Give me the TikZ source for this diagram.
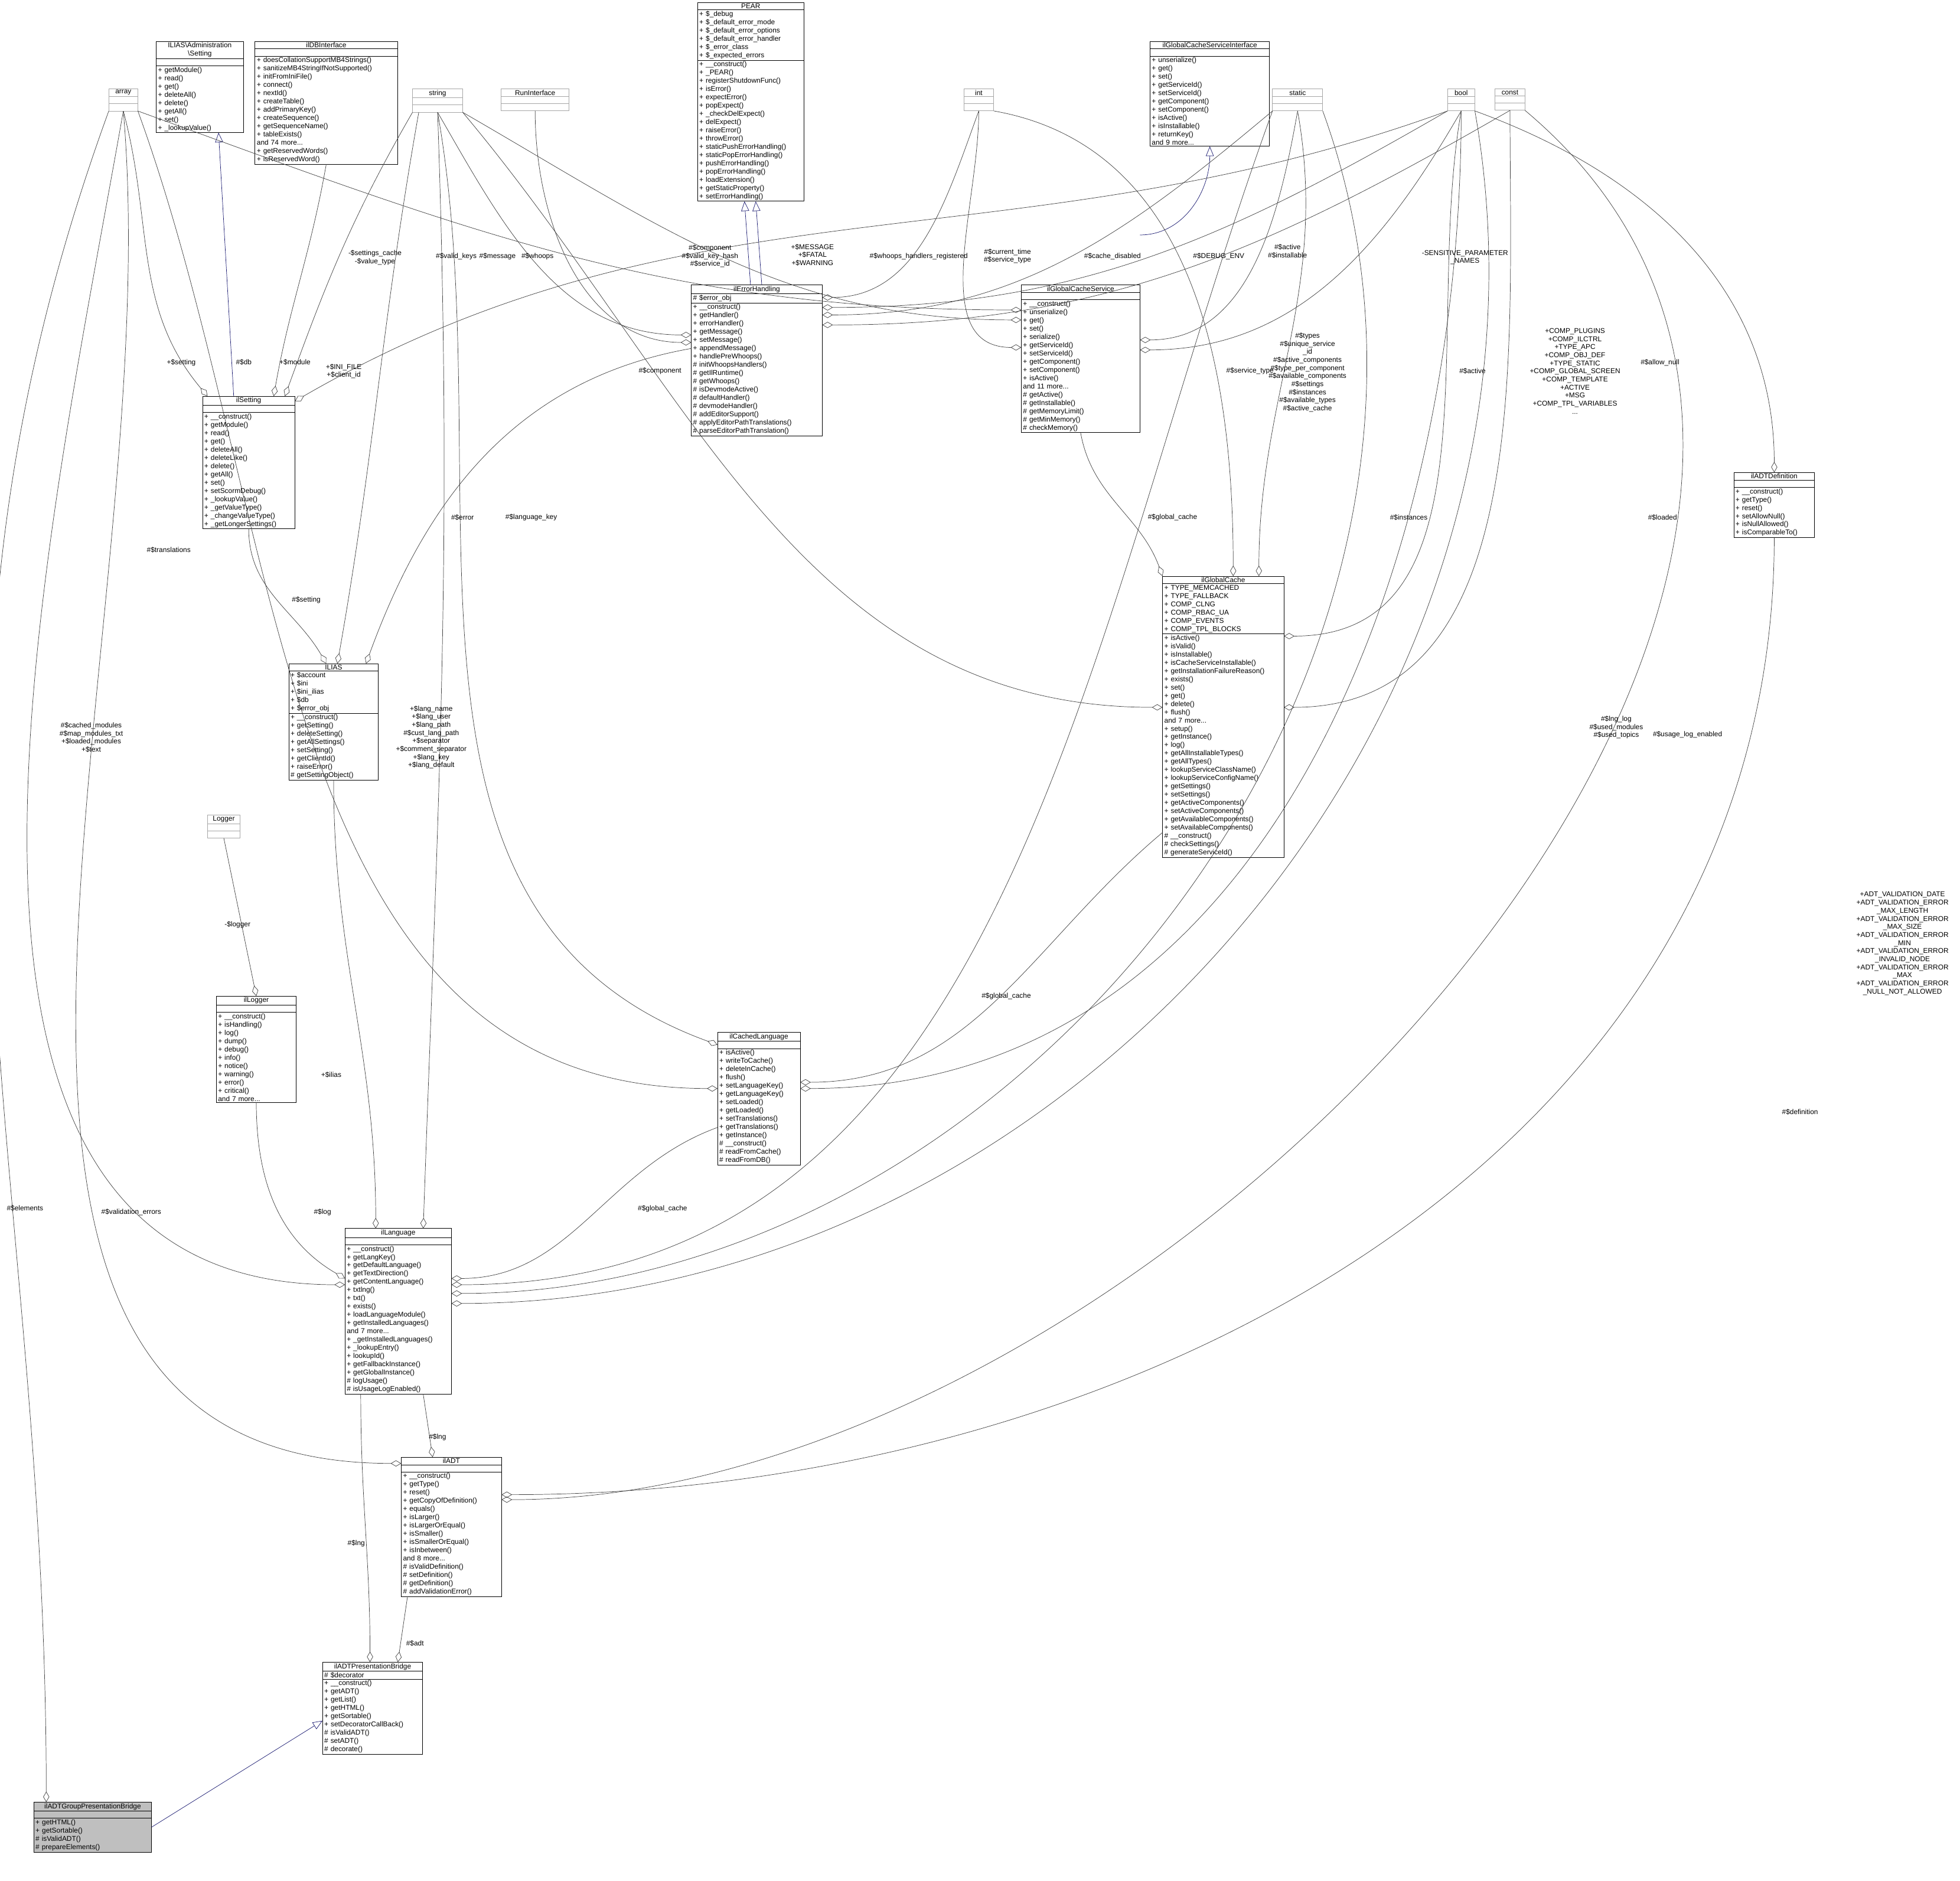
\documentclass[tikz,border=0pt]{standalone}
\usepackage{fontspec}
\setmainfont{Liberation Sans}
\usetikzlibrary{shapes.multipart,arrows.meta}
\begin{document}
\catcode`\$=12 \catcode`\_=12
\begin{tikzpicture}[x=0.125mm,y=-0.125mm,line width=0.12pt,
  cls/.style={draw=black, rectangle split, rectangle split parts=3, anchor=north west, scale=0.25,
    font=\fontsize{8}{9.4}\selectfont, align=left, inner xsep=2pt, inner ysep=1.3pt, fill=white, line width=0.15pt},
  gbox/.style={cls, draw=black!35},
  agg/.style={draw=black!75, -{Diamond[open,length=3pt,width=1.75pt]}},
  inh/.style={draw={rgb,255:red,25;green,25;blue,112}, -{Triangle[open,length=2.75pt,width=2.25pt]}},
  lbl/.style={font=\fontsize{8}{9.2}\selectfont, align=center, inner sep=0pt, scale=0.25}]
\path[use as bounding box] (0,0) rectangle (1568,1505);
\newcommand{\E}{\nodepart{two}\vphantom{A}\nodepart{three}\vphantom{A}}
% gray boxes
\node[gbox,text width=29pt] (array) at (87,71) {{\centering array\par}\E};
\node[gbox,text width=53pt] (string) at (330,71) {{\centering string\par}\E};
\node[gbox,text width=73pt] (run) at (401,71) {{\centering RunInterface\par}\E};
\node[gbox,text width=30pt] (int) at (771,71) {{\centering int\par}\E};
\node[gbox,text width=53pt] (static) at (1018,71) {{\centering static\par}\E};
\node[gbox,text width=27pt] (bool) at (1158,71) {{\centering bool\par}\E};
\node[gbox,text width=30pt] (const) at (1196,71) {{\centering const\par}\E};
\node[gbox,text width=33pt] (logger) at (166,652) {{\centering Logger\par}\E};
% classes
\node[cls,text width=95pt] (adm) at (125,33) {{\centering ILIAS\textbackslash Administration\\\textbackslash Setting\par}
 \nodepart{two}\vphantom{A}\nodepart{three}+ getModule()\\+ read()\\+ get()\\+ deleteAll()\\+ delete()\\+ getAll()\\+ set()\\+ _lookupValue()};
\node[cls,text width=158pt] (dbi) at (204,33) {{\centering ilDBInterface\par}
 \nodepart{two}\vphantom{A}\nodepart{three}+ doesCollationSupportMB4Strings()\\+ sanitizeMB4StringIfNotSupported()\\+ initFromIniFile()\\+ connect()\\+ nextId()\\+ createTable()\\+ addPrimaryKey()\\+ createSequence()\\+ getSequenceName()\\+ tableExists()\\and 74 more...\\+ getReservedWords()\\+ isReservedWord()};
\node[cls,text width=117pt] (pear) at (558,2) {{\centering PEAR\par}
 \nodepart{two}+ $_debug\\+ $_default_error_mode\\+ $_default_error_options\\+ $_default_error_handler\\+ $_error_class\\+ $_expected_errors
 \nodepart{three}+ __construct()\\+ _PEAR()\\+ registerShutdownFunc()\\+ isError()\\+ expectError()\\+ popExpect()\\+ _checkDelExpect()\\+ delExpect()\\+ raiseError()\\+ throwError()\\+ staticPushErrorHandling()\\+ staticPopErrorHandling()\\+ pushErrorHandling()\\+ popErrorHandling()\\+ loadExtension()\\+ getStaticProperty()\\+ setErrorHandling()};
\node[cls,text width=132pt] (gcsi) at (920,33) {{\centering ilGlobalCacheServiceInterface\par}
 \nodepart{two}\vphantom{A}\nodepart{three}+ unserialize()\\+ get()\\+ set()\\+ getServiceId()\\+ setServiceId()\\+ getComponent()\\+ setComponent()\\+ isActive()\\+ isInstallable()\\+ returnKey()\\and 9 more...};
\node[cls,text width=101pt] (set) at (162,317) {{\centering ilSetting\par}
 \nodepart{two}\vphantom{A}\nodepart{three}+ __construct()\\+ getModule()\\+ read()\\+ get()\\+ deleteAll()\\+ deleteLike()\\+ delete()\\+ getAll()\\+ set()\\+ setScormDebug()\\+ _lookupValue()\\+ _getValueType()\\+ _changeValueType()\\+ _getLongerSettings()};
\node[cls,text width=145pt] (eh) at (553,228) {{\centering ilErrorHandling\par}
 \nodepart{two}\# $error_obj\nodepart{three}+ __construct()\\+ getHandler()\\+ errorHandler()\\+ getMessage()\\+ setMessage()\\+ appendMessage()\\+ handlePreWhoops()\\\# initWhoopsHandlers()\\\# getIlRuntime()\\\# getWhoops()\\\# isDevmodeActive()\\\# defaultHandler()\\\# devmodeHandler()\\\# addEditorSupport()\\\# applyEditorPathTranslations()\\\# parseEditorPathTranslation()};
\node[cls,text width=131pt] (gcs) at (817,228) {{\centering ilGlobalCacheService\par}
 \nodepart{two}\vphantom{A}\nodepart{three}+ __construct()\\+ unserialize()\\+ get()\\+ set()\\+ serialize()\\+ getServiceId()\\+ setServiceId()\\+ getComponent()\\+ setComponent()\\+ isActive()\\and 11 more...\\\# getActive()\\\# getInstallable()\\\# getMemoryLimit()\\\# getMinMemory()\\\# checkMemory()};
\node[cls,text width=88pt] (adtdef) at (1387,378) {{\centering ilADTDefinition\par}
 \nodepart{two}\vphantom{A}\nodepart{three}+ __construct()\\+ getType()\\+ reset()\\+ setAllowNull()\\+ isNullAllowed()\\+ isComparableTo()};
\node[cls,text width=134pt] (gc) at (930,461) {{\centering ilGlobalCache\par}
 \nodepart{two}+ TYPE_MEMCACHED\\+ TYPE_FALLBACK\\+ COMP_CLNG\\+ COMP_RBAC_UA\\+ COMP_EVENTS\\+ COMP_TPL_BLOCKS
 \nodepart{three}+ isActive()\\+ isValid()\\+ isInstallable()\\+ isCacheServiceInstallable()\\+ getInstallationFailureReason()\\+ exists()\\+ set()\\+ get()\\+ delete()\\+ flush()\\and 7 more...\\+ setup()\\+ getInstance()\\+ log()\\+ getAllInstallableTypes()\\+ getAllTypes()\\+ lookupServiceClassName()\\+ lookupServiceConfigName()\\+ getSettings()\\+ setSettings()\\+ getActiveComponents()\\+ setActiveComponents()\\+ getAvailableComponents()\\+ setAvailableComponents()\\\# __construct()\\\# checkSettings()\\\# generateServiceId()};
\node[cls,text width=98pt] (ilias) at (231,531) {{\centering ILIAS\par}
 \nodepart{two}+ $account\\+ $ini\\+ $ini_ilias\\+ $db\\+ $error_obj
 \nodepart{three}+ __construct()\\+ getSetting()\\+ deleteSetting()\\+ getAllSettings()\\+ setSetting()\\+ getClientId()\\+ raiseError()\\\# getSettingObject()};
\node[cls,text width=87pt] (ilog) at (173,797) {{\centering ilLogger\par}
 \nodepart{two}\vphantom{A}\nodepart{three}+ __construct()\\+ isHandling()\\+ log()\\+ dump()\\+ debug()\\+ info()\\+ notice()\\+ warning()\\+ error()\\+ critical()\\and 7 more...};
\node[cls,text width=90pt] (cl) at (574,826) {{\centering ilCachedLanguage\par}
 \nodepart{two}\vphantom{A}\nodepart{three}+ isActive()\\+ writeToCache()\\+ deleteInCache()\\+ flush()\\+ setLanguageKey()\\+ getLanguageKey()\\+ setLoaded()\\+ getLoaded()\\+ setTranslations()\\+ getTranslations()\\+ getInstance()\\\# __construct()\\\# readFromCache()\\\# readFromDB()};
\node[cls,text width=117pt] (lang) at (276,983) {{\centering ilLanguage\par}
 \nodepart{two}\vphantom{A}\nodepart{three}+ __construct()\\+ getLangKey()\\+ getDefaultLanguage()\\+ getTextDirection()\\+ getContentLanguage()\\+ txtlng()\\+ txt()\\+ exists()\\+ loadLanguageModule()\\+ getInstalledLanguages()\\and 7 more...\\+ _getInstalledLanguages()\\+ _lookupEntry()\\+ lookupId()\\+ getFallbackInstance()\\+ getGlobalInstance()\\\# logUsage()\\\# isUsageLogEnabled()};
\node[cls,text width=110pt] (adt) at (321,1166) {{\centering ilADT\par}
 \nodepart{two}\vphantom{A}\nodepart{three}+ __construct()\\+ getType()\\+ reset()\\+ getCopyOfDefinition()\\+ equals()\\+ isLarger()\\+ isLargerOrEqual()\\+ isSmaller()\\+ isSmallerOrEqual()\\+ isInbetween()\\and 8 more...\\\# isValidDefinition()\\\# setDefinition()\\\# getDefinition()\\\# addValidationError()};
\node[cls,text width=110pt] (bridge) at (258,1330) {{\centering ilADTPresentationBridge\par}
 \nodepart{two}\# $decorator\nodepart{three}+ __construct()\\+ getADT()\\+ getList()\\+ getHTML()\\+ getSortable()\\+ setDecoratorCallBack()\\\# isValidADT()\\\# setADT()\\\# decorate()};
\node[cls,text width=130pt,fill=black!25] (grp) at (27,1442) {{\centering ilADTGroupPresentationBridge\par}
 \nodepart{two}\vphantom{A}\nodepart{three}+ getHTML()\\+ getSortable()\\\# isValidADT()\\\# prepareElements()};
% inheritance
\draw[inh] (grp.east) -- ([shift={(0,10)}]bridge.west);
\draw[inh] ([shift={(-12,0)}]set.north) -- ([shift={(15,0)}]adm.south);
\draw[inh] ([shift={(-5,0)}]eh.north) -- ([shift={(-5,0)}]pear.south);
\draw[inh] ([shift={(4,0)}]eh.north) -- ([shift={(4,0)}]pear.south);
\draw[inh] ([shift={(0,-40)}]gcs.north east) to[out=0,in=-90] (gcsi.south);
% aggregations
\draw[agg] (array.south west) to[out=250,in=90] ([shift={(10,0)}]grp.north west);
\draw[agg] (array.south) to[out=-75,in=130] ([shift={(4,0)}]set.north west);
\draw[agg] (dbi.south) to[out=-100,in=80] ([shift={(20,0)}]set.north);
\draw[agg] (string.south west) to[out=-120,in=70] ([shift={(-8,0)}]set.north east);
\draw[agg] (bool.south west) to[out=-160,in=30] ([shift={(0,4)}]set.north east);
\draw[agg] (string.south) to[out=-60,in=180] ([shift={(0,40)}]eh.north west);
\draw[agg] (run.south) to[out=-90,in=180] ([shift={(0,46)}]eh.north west);
\draw[agg] (array.south east) to[out=-20,in=180] ([shift={(0,20)}]gcs.north west);
\draw[agg] (string.south east) to[out=-30,in=180] ([shift={(0,28)}]gcs.north west);
\draw[agg] (int.south) to[out=-110,in=0] ([shift={(0,10)}]eh.north east);
\draw[agg] (bool.south west) to[out=-150,in=0] ([shift={(0,18)}]eh.north east);
\draw[agg] (int.south) to[out=-90,in=180] ([shift={(0,50)}]gcs.north west);
\draw[agg] (static.south west) to[out=-140,in=0] ([shift={(0,24)}]eh.north east);
\draw[agg] (static.south) to[out=-100,in=0] ([shift={(0,44)}]gcs.north east);
\draw[agg] (bool.south) to[out=-120,in=0] ([shift={(0,52)}]gcs.north east);
\draw[agg] (const.south) to[out=-150,in=0] ([shift={(0,32)}]eh.north east);
\draw[agg] (bool.south east) to[out=-20,in=90] (adtdef.north);
\draw[agg] (set.south) to[out=-90,in=120] ([shift={(30,0)}]ilias.north west);
\draw[agg] ([shift={(5,0)}]string.south west) to[out=-100,in=80] ([shift={(3,0)}]ilias.north);
\draw[agg] ([shift={(0,-70)}]eh.south west) to[out=190,in=70] ([shift={(-10,0)}]ilias.north east);
\draw[agg] (array.south east) to[out=-70,in=180] ([shift={(0,45)}]cl.north west);
\draw[agg] (string.south) to[out=-80,in=160] ([shift={(0,10)}]cl.north west);
\draw[agg] (string.south east) to[out=-50,in=180] ([shift={(0,105)}]gc.north west);
\draw[agg] (int.south east) to[out=-10,in=90] ([shift={(8,0)}]gc.north);
\draw[agg] (static.south) to[out=-80,in=90] ([shift={(-20,0)}]gc.north east);
\draw[agg] (bool.south) to[out=-100,in=0] ([shift={(0,48)}]gc.north east);
\draw[agg] (const.south) to[out=-90,in=0] ([shift={(0,105)}]gc.north east);
\draw[agg] (gcs.south) to[out=-80,in=110] (gc.north west);
\draw[agg] (static.south west) to[out=-110,in=0] ([shift={(0,45)}]lang.north east);
\draw[agg] (bool.south) to[out=-90,in=0] ([shift={(0,45)}]cl.north east);
\draw[agg] (string.south) to[out=-88,in=88] ([shift={(20,0)}]lang.north);
\draw[agg] (array.south) to[out=-100,in=180] ([shift={(0,45)}]lang.north west);
\draw[agg] (bool.south east) to[out=-80,in=0] ([shift={(0,60)}]lang.north east);
\draw[agg] (static.south east) to[out=-70,in=0] ([shift={(0,52)}]lang.north east);
\draw[agg] (ilias.south) to[out=-90,in=90] ([shift={(-18,0)}]lang.north);
\draw[agg] (logger.south) -- (ilog.north);
\draw[agg] (ilog.south) to[out=-90,in=150] ([shift={(0,40)}]lang.north west);
\draw[agg] ([shift={(0,-30)}]cl.south west) to[out=200,in=0] ([shift={(0,40)}]lang.north east);
\draw[agg] ([shift={(0,-20)}]gc.south west) to[out=220,in=0] ([shift={(0,40)}]cl.north east);
\draw[agg] (array.south) to[out=-85,in=180] ([shift={(0,5)}]adt.north west);
\draw[agg] ([shift={(20,0)}]lang.south) -- ([shift={(-15,0)}]adt.north);
\draw[agg] (adtdef.south) to[out=-90,in=0] ([shift={(0,30)}]adt.north east);
\draw[agg] (const.south east) to[out=-40,in=0] ([shift={(0,34)}]adt.north east);
\draw[agg] ([shift={(-30,0)}]lang.south) to[out=-90,in=90] ([shift={(38,0)}]bridge.north west);
\draw[agg] ([shift={(5,0)}]adt.south west) -- ([shift={(-20,0)}]bridge.north east);
% labels
\node[lbl] (l1) at (20,967) {\#$elements};
\node[lbl] (l2) at (145,290) {+$setting};
\node[lbl] (l3) at (195,290) {\#$db};
\node[lbl] (l4) at (236,290) {+$module};
\node[lbl] (l5) at (300,206) {-$settings_cache\\-$value_type};
\node[lbl] (l6) at (365,205) {\#$valid_keys};
\node[lbl] (l7) at (398,205) {\#$message};
\node[lbl] (l8) at (430,205) {\#$whoops};
\node[lbl] (l9) at (568,205) {\#$component\\\#$valid_key_hash\\\#$service_id};
\node[lbl] (l10) at (650,204) {+$MESSAGE\\+$FATAL\\+$WARNING};
\node[lbl] (l11) at (735,205) {\#$whoops_handlers_registered};
\node[lbl] (l12) at (806,205) {\#$current_time\\\#$service_type};
\node[lbl] (l13) at (890,205) {\#$cache_disabled};
\node[lbl] (l14) at (975,205) {\#$DEBUG_ENV};
\node[lbl] (l15) at (1030,201) {\#$active\\\#$installable};
\node[lbl] (l16) at (1172,206) {-SENSITIVE_PARAMETER\\_NAMES};
\node[lbl] (l17) at (1328,290) {\#$allow_null};
\node[lbl] (l18) at (275,297) {+$INI_FILE\\+$client_id};
\node[lbl] (l19) at (528,297) {\#$component};
\node[lbl] (l20) at (1000,297) {\#$service_type};
\node[lbl] (l21) at (1046,298) {\#$types\\\#$unique_service\\_id\\\#$active_components\\\#$type_per_component\\\#$available_components\\\#$settings\\\#$instances\\\#$available_types\\\#$active_cache};
\node[lbl] (l22) at (1178,297) {\#$active};
\node[lbl] (l23) at (1260,297) {+COMP_PLUGINS\\+COMP_ILCTRL\\+TYPE_APC\\+COMP_OBJ_DEF\\+TYPE_STATIC\\+COMP_GLOBAL_SCREEN\\+COMP_TEMPLATE\\+ACTIVE\\+MSG\\+COMP_TPL_VARIABLES\\...};
\node[lbl] (l24) at (135,440) {\#$translations};
\node[lbl] (l25) at (245,480) {\#$setting};
\node[lbl] (l26) at (370,414) {\#$error};
\node[lbl] (l27) at (425,414) {\#$language_key};
\node[lbl] (l28) at (938,414) {\#$global_cache};
\node[lbl] (l29) at (1127,414) {\#$instances};
\node[lbl] (l30) at (1330,414) {\#$loaded};
\node[lbl] (l31) at (73,590) {\#$cached_modules\\\#$map_modules_txt\\+$loaded_modules\\+$text};
\node[lbl] (l32) at (345,590) {+$lang_name\\+$lang_user\\+$lang_path\\\#$cust_lang_path\\+$separator\\+$comment_separator\\+$lang_key\\+$lang_default};
\node[lbl] (l33) at (1293,582) {\#$lng_log\\\#$used_modules\\\#$used_topics};
\node[lbl] (l34) at (1350,588) {\#$usage_log_enabled};
\node[lbl] (l35) at (190,740) {-$logger};
\node[lbl] (l36) at (1522,755) {+ADT_VALIDATION_DATE\\+ADT_VALIDATION_ERROR\\_MAX_LENGTH\\+ADT_VALIDATION_ERROR\\_MAX_SIZE\\+ADT_VALIDATION_ERROR\\_MIN\\+ADT_VALIDATION_ERROR\\_INVALID_NODE\\+ADT_VALIDATION_ERROR\\_MAX\\+ADT_VALIDATION_ERROR\\_NULL_NOT_ALLOWED};
\node[lbl] (l37) at (805,797) {\#$global_cache};
\node[lbl] (l38) at (265,860) {+$ilias};
\node[lbl] (l39) at (1440,890) {\#$definition};
\node[lbl] (l40) at (530,967) {\#$global_cache};
\node[lbl] (l41) at (258,970) {\#$log};
\node[lbl] (l42) at (105,970) {\#$validation_errors};
\node[lbl] (l43) at (350,1150) {\#$lng};
\node[lbl] (l44) at (285,1235) {\#$lng};
\node[lbl] (l45) at (332,1315) {\#$adt};
\end{tikzpicture}
\end{document}
